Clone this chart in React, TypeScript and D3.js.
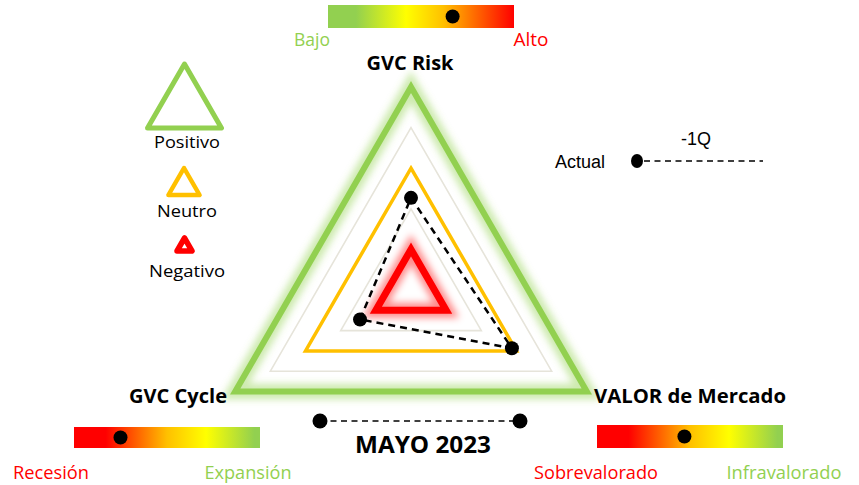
import React from "react";
import * as d3 from "d3";

const axes = ["GVC Risk", "VALOR de Mercado", "GVC Cycle"];
const axisAngles = [-90, 30, 150];
const actualValues = [2.27, 2.87, 1.45];
const levels = [1, 2, 3, 4, 5];
const levelColors = ["#ff0000", "#e6e4da", "#ffc000", "#e6e4da", "#92d050"];
const levelWidths = [7, 1.6, 3.5, 1.6, 6];
const legendItems = ["Positivo", "Neutro", "Negativo"];
const legendColors = ["#92d050", "#ffc000", "#ff0000"];
const gauges = [
  { name: "GVC Risk", low: "Bajo", high: "Alto", value: 0.67, reversed: true },
  { name: "GVC Cycle", low: "Recesión", high: "Expansión", value: 0.25, reversed: false },
  { name: "VALOR de Mercado", low: "Sobrevalorado", high: "Infravalorado", value: 0.47, reversed: false },
];
const period = "MAYO 2023";
const legendActual = "Actual";
const legendPrev = "-1Q";

const W = 859, H = 485;
const cx = 411, cy = 290, R = 203;
const rScale = d3.scaleLinear().domain([0, 5]).range([0, R]);

function pt(angleDeg: number, r: number): [number, number] {
  const a = (angleDeg * Math.PI) / 180;
  return [cx + r * Math.cos(a), cy + r * Math.sin(a)];
}
const closed = d3.line().curve(d3.curveLinearClosed);
function triPath(r: number) {
  return closed(axisAngles.map((a) => pt(a, r)))!;
}

const FONT = "'Open Sans', 'Noto Sans', sans-serif";

function Gauge({ x, y, w, h, value, id, stops }: any) {
  const gx = d3.scaleLinear().domain([0, 1]).range([x, x + w]);
  return (
    <g>
      <defs>
        <linearGradient id={id} x1="0" x2="1" y1="0" y2="0">
          {stops.map((s: any, i: number) => (
            <stop key={i} offset={s[0]} stopColor={s[1]} />
          ))}
        </linearGradient>
      </defs>
      <rect x={x} y={y} width={w} height={h} fill={`url(#${id})`} />
      <circle cx={gx(value)} cy={y + h / 2} r={7} fill="#000" />
    </g>
  );
}

const riskStops = [[0, "#92d050"], [0.15, "#92d050"], [0.42, "#ffff00"], [0.62, "#ffc000"], [1, "#ff0000"]];
const goodStops = [[0, "#ff0000"], [0.17, "#ff0000"], [0.5, "#ffc000"], [0.71, "#ffff00"], [0.97, "#92d050"], [1, "#92d050"]];

export default function App() {
  const dataPts = actualValues.map((v, i) => pt(axisAngles[i], rScale(v)));
  const smallTri = (x: number, top: number, bottom: number) => {
    const half = (bottom - top) / Math.sqrt(3);
    return closed([[x, top], [x + half, bottom], [x - half, bottom]] as any)!;
  };
  const legendTris = [smallTri(184.5, 64, 128), smallTri(184, 168, 195), smallTri(184.5, 238, 251)];
  const legendW = [5, 4.5, 5.5];
  const legendLabelY = [148, 217, 277];
  return (
    <svg width={W} height={H} style={{ position: "absolute", left: 0, top: 0, background: "#fff" }}>
      <defs>
        <filter id="blurG" x="-30%" y="-30%" width="160%" height="160%">
          <feGaussianBlur stdDeviation="3.5" />
        </filter>
        <filter id="blurR" x="-50%" y="-50%" width="200%" height="200%">
          <feGaussianBlur stdDeviation="3.5" />
        </filter>
      </defs>
      <rect width={W} height={H} fill="#fff" />

      {/* grid triangles */}
      {levels.map((l, i) =>
        i === 0 || i === 4 ? null : (
          <path key={l} d={triPath(rScale(l))} fill="none" stroke={levelColors[i]} strokeWidth={levelWidths[i]} strokeLinejoin="miter" />
        )
      )}
      <path d={triPath(rScale(5))} fill="none" stroke="#92d050" strokeOpacity={0.45} strokeWidth={16} filter="url(#blurG)" />
      <path d={triPath(rScale(5))} fill="none" stroke={levelColors[4]} strokeWidth={levelWidths[4]} />
      <path d={triPath(rScale(1))} fill="none" stroke="#ff0000" strokeOpacity={0.45} strokeWidth={15} filter="url(#blurR)" />
      <path d={triPath(rScale(1))} fill="none" stroke={levelColors[0]} strokeWidth={levelWidths[0]} />

      {/* data polygon */}
      <path d={closed(dataPts as any)!} fill="none" stroke="#000" strokeWidth={2.5} strokeDasharray="7,5" />
      {dataPts.map((p, i) => (
        <circle key={i} cx={p[0]} cy={p[1]} r={7} fill="#000" />
      ))}

      {/* axis labels */}
      <g fontFamily={FONT} fontWeight="bold" fontSize={19} fill="#000" textAnchor="middle">
        <text x={410} y={70} textLength={87} lengthAdjust="spacingAndGlyphs">{axes[0]}</text>
        <text x={690} y={403} textLength={192} lengthAdjust="spacingAndGlyphs">{axes[1]}</text>
        <text x={178} y={403} textLength={98} lengthAdjust="spacingAndGlyphs">{axes[2]}</text>
        <text x={423} y={453} fontSize={23} textLength={136} lengthAdjust="spacingAndGlyphs">{period}</text>
      </g>

      {/* gauges */}
      <Gauge x={328} y={5} w={186} h={23} value={gauges[0].value} id="g0" stops={riskStops} />
      <Gauge x={74} y={427} w={186} h={21} value={gauges[1].value} id="g1" stops={goodStops} />
      <Gauge x={597} y={425} w={186} h={23} value={gauges[2].value} id="g2" stops={goodStops} />
      <g fontFamily={FONT} fontSize={18} textAnchor="middle">
        <text x={312} y={46} fill="#92d050" textLength={36} lengthAdjust="spacingAndGlyphs">{gauges[0].low}</text>
        <text x={531} y={46} fill="#ff0000" textLength={35} lengthAdjust="spacingAndGlyphs">{gauges[0].high}</text>
        <text x={51} y={479} fill="#ff0000" textLength={76} lengthAdjust="spacingAndGlyphs">{gauges[1].low}</text>
        <text x={248} y={479} fill="#92d050" textLength={87} lengthAdjust="spacingAndGlyphs">{gauges[1].high}</text>
        <text x={596} y={479} fill="#ff0000" textLength={124} lengthAdjust="spacingAndGlyphs">{gauges[2].low}</text>
        <text x={784} y={479} fill="#92d050" textLength={115} lengthAdjust="spacingAndGlyphs">{gauges[2].high}</text>
      </g>

      {/* level legend */}
      {legendTris.map((d, i) => (
        <path key={i} d={d} fill="none" stroke={legendColors[i]} strokeWidth={legendW[i]} strokeLinejoin="round" />
      ))}
      <g fontFamily={FONT} fontSize={16} textAnchor="middle" fill="#000">
        {legendItems.map((t, i) => (
          <text key={t} x={187} y={legendLabelY[i]} textLength={[66, 60, 76][i]} lengthAdjust="spacingAndGlyphs">{t}</text>
        ))}
      </g>

      {/* series legend */}
      <g fontFamily="'Liberation Sans', Arial, sans-serif" fontSize={18} fill="#000">
        <text x={696} y={145} textAnchor="middle">{legendPrev}</text>
        <text x={580} y={168} textAnchor="middle">{legendActual}</text>
      </g>
      <ellipse cx={637} cy={161} rx={6} ry={7} fill="#000" />
      <line x1={644} x2={763} y1={161} y2={161} stroke="#000" strokeWidth={1.5} strokeDasharray="6,4.5" />

      {/* period line */}
      <line x1={320} x2={520} y1={421} y2={421} stroke="#000" strokeWidth={1.5} strokeDasharray="6,4.5" />
      <circle cx={320} cy={421} r={7.5} fill="#000" />
      <circle cx={520} cy={421} r={7.5} fill="#000" />
    </svg>
  );
}
